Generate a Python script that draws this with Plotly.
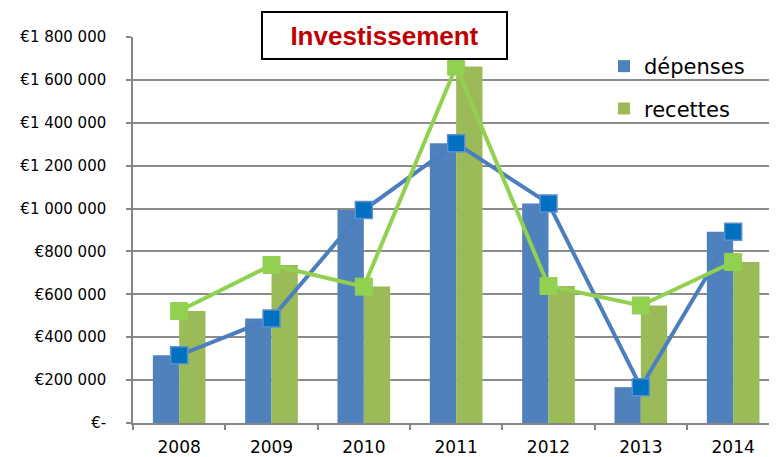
import plotly.graph_objects as go

years = ["2008", "2009", "2010", "2011", "2012", "2013", "2014"]
depenses = [316000, 487000, 993000, 1304000, 1024000, 167000, 892000]
recettes = [522000, 737000, 636000, 1662000, 639000, 548000, 751000]
ytick_vals = [0, 200000, 400000, 600000, 800000, 1000000, 1200000, 1400000, 1600000, 1800000]
ytick_text = ["€-", "€200 000", "€400 000", "€600 000", "€800 000", "€1 000 000",
              "€1 200 000", "€1 400 000", "€1 600 000", "€1 800 000"]

BLUE = "#4F81BD"
GREEN = "#9BBB59"
FONT = "DejaVu Sans"

fig = go.Figure()
fig.add_trace(go.Bar(x=years, y=depenses, name="dépenses", legendgroup="a",
                     marker=dict(color=BLUE, line=dict(width=0))))
fig.add_trace(go.Bar(x=years, y=recettes, name="recettes", legendgroup="b",
                     marker=dict(color=GREEN, line=dict(width=0))))
fig.add_trace(go.Scatter(x=years, y=depenses, mode="lines+markers", showlegend=False,
                         line=dict(color="#4A7EBF", width=4),
                         marker=dict(symbol="square", size=17, color="#0070C0",
                                     line=dict(color="#5B8FD0", width=1.5))))
fig.add_trace(go.Scatter(x=years, y=recettes, mode="lines+markers", showlegend=False,
                         line=dict(color="#92D050", width=4),
                         marker=dict(symbol="square", size=17, color="#92D050",
                                     line=dict(color="#92D050", width=1))))

# page has an 8px body margin: work in figure coordinates (page - 8)
W, H = 769, 449
L, R, T, B = 125, 0, 29, 34
pw = W - L - R
ph = H - T - B
step = 92.33

def px(x):
    return (x - 8 - L) / pw

def py(y):
    return (H - B - (y - 8)) / ph

fig.update_layout(
    width=W, height=H,
    margin=dict(l=L, r=R, t=T, b=B, pad=0, autoexpand=False),
    paper_bgcolor="white", plot_bgcolor="white",
    barmode="group", bargap=0.43, bargroupgap=0,
    font=dict(family=FONT, size=15, color="#000000"),
    legend=dict(x=px(604), y=py(46), xanchor="left", yanchor="top",
                bgcolor="rgba(0,0,0,0)", font=dict(size=21, family=FONT),
                tracegroupgap=12, itemwidth=30),
    xaxis=dict(type="category", range=[-0.5, -0.5 + pw / step], tickson="boundaries",
               automargin=False,
               showgrid=False, showline=True, linecolor="#868686", linewidth=1.5,
               ticks="outside", ticklen=5, tickcolor="#868686", tickwidth=1.5,
               tickfont=dict(size=17), ticklabelstandoff=8, zeroline=False),
    yaxis=dict(range=[0, 1800000], tickvals=ytick_vals, ticktext=ytick_text,
               automargin=False,
               showgrid=True, gridcolor="#8C8C8C", gridwidth=1.5,
               showline=True, linecolor="#868686", linewidth=1.5,
               ticks="outside", ticklen=5, tickcolor="#868686", tickwidth=1.5,
               tickfont=dict(size=15), ticklabelstandoff=17, zeroline=False),
    shapes=[dict(type="rect", xref="paper", yref="paper",
                 x0=px(578), x1=1.05, y0=py(163), y1=py(38.5),
                 fillcolor="white", line=dict(width=0), layer="between")],
    annotations=[dict(text="<b>Investissement</b>", xref="paper", yref="paper",
                      x=px(384), y=py(35.5), xanchor="center", yanchor="middle",
                      showarrow=False, width=241, height=43,
                      font=dict(family="Liberation Sans", size=26, color="#C00000"),
                      bgcolor="white", bordercolor="#000000", borderwidth=2)],
)

fig.write_html("out.html")
